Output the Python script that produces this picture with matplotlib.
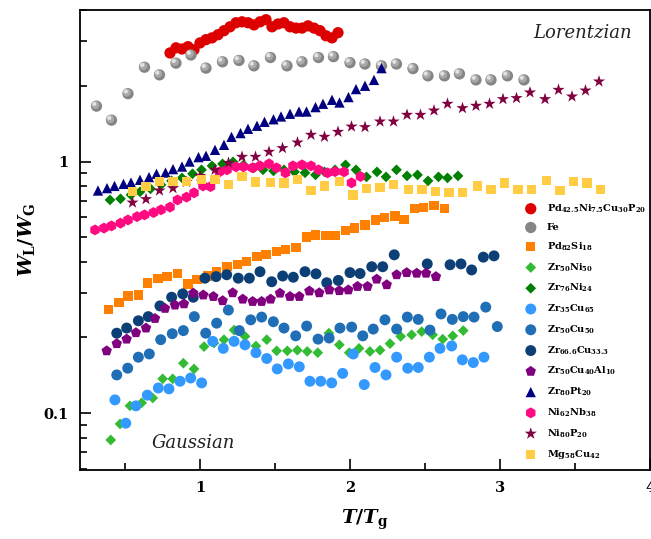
import matplotlib
matplotlib.use("Agg")
import matplotlib.pyplot as plt
import matplotlib.transforms as mtransforms
from matplotlib.ticker import FixedLocator, FixedFormatter, LogLocator, NullFormatter

plt.rcParams['font.family'] = 'DejaVu Serif'
plt.rcParams['mathtext.fontset'] = 'custom'
plt.rcParams['mathtext.rm'] = 'DejaVu Serif:bold'
plt.rcParams['mathtext.bf'] = 'DejaVu Serif:bold'
plt.rcParams['mathtext.it'] = 'DejaVu Serif:italic:bold'
plt.rcParams['mathtext.default'] = 'rm'

# --- data: T/Tg and WL/WG ---
pdni_t = [0.80, 0.84, 0.88, 0.92, 0.96, 1.00, 1.04, 1.08, 1.12, 1.16, 1.20, 1.24, 1.28, 1.32, 1.36,
          1.40, 1.44, 1.48, 1.52, 1.56, 1.60, 1.64, 1.68, 1.72, 1.76, 1.80, 1.84, 1.88, 1.92]
pdni_w = [2.70, 2.83, 2.80, 2.86, 2.78, 2.96, 3.05, 3.10, 3.19, 3.31, 3.43, 3.56, 3.59, 3.56, 3.49,
          3.59, 3.66, 3.43, 3.52, 3.56, 3.43, 3.39, 3.39, 3.46, 3.39, 3.31, 3.16, 3.10, 3.25]

fe_t = [0.31, 0.41, 0.52, 0.63, 0.73, 0.84, 0.94, 1.04, 1.15, 1.26, 1.36, 1.47, 1.58, 1.68,
        1.79, 1.89, 2.00, 2.10, 2.21, 2.31, 2.42, 2.52, 2.63, 2.73, 2.84, 2.94, 3.05, 3.16]
fe_w = [1.66, 1.46, 1.86, 2.37, 2.21, 2.46, 2.65, 2.35, 2.49, 2.52, 2.40, 2.59, 2.40, 2.49,
        2.59, 2.61, 2.47, 2.44, 2.40, 2.44, 2.34, 2.19, 2.19, 2.23, 2.11, 2.11, 2.19, 2.11]

pdsi_t = [0.39, 0.46, 0.52, 0.59, 0.65, 0.72, 0.78, 0.85, 0.92, 0.98, 1.05, 1.11, 1.18, 1.25, 1.31,
          1.38, 1.44, 1.51, 1.57, 1.64, 1.71, 1.77, 1.84, 1.90, 1.97, 2.03, 2.10, 2.17, 2.23, 2.30,
          2.36, 2.43, 2.49, 2.56, 2.63]
pdsi_w = [0.259, 0.275, 0.292, 0.295, 0.329, 0.344, 0.349, 0.358, 0.326, 0.339, 0.351, 0.364, 0.382,
          0.389, 0.400, 0.419, 0.426, 0.439, 0.446, 0.457, 0.501, 0.511, 0.507, 0.507, 0.532, 0.544,
          0.560, 0.586, 0.599, 0.608, 0.590, 0.653, 0.659, 0.667, 0.653]

zrni50_t = [0.405, 0.467, 0.533, 0.611, 0.685, 0.751, 0.818, 0.889, 0.96, 1.027, 1.093, 1.16, 1.227,
            1.3, 1.373, 1.445, 1.511, 1.582, 1.649, 1.715, 1.785, 1.859, 1.929, 1.995, 2.06, 2.133,
            2.2, 2.267, 2.338, 2.411, 2.478, 2.551, 2.618, 2.685, 2.755]
zrni50_w = [0.0783, 0.0907, 0.107, 0.110, 0.115, 0.137, 0.137, 0.158, 0.150, 0.184, 0.190, 0.196,
            0.214, 0.202, 0.185, 0.196, 0.177, 0.177, 0.178, 0.176, 0.174, 0.208, 0.187, 0.174,
            0.181, 0.176, 0.178, 0.189, 0.202, 0.205, 0.211, 0.205, 0.197, 0.203, 0.213]

zrni76_t = [0.40, 0.47, 0.54, 0.60, 0.67, 0.74, 0.81, 0.88, 0.95, 1.01, 1.08, 1.15, 1.22, 1.29, 1.36,
            1.42, 1.49, 1.56, 1.63, 1.70, 1.77, 1.83, 1.90, 1.97, 2.04, 2.11, 2.18, 2.24, 2.31, 2.38,
            2.45, 2.52, 2.59, 2.65, 2.72]
zrni76_w = [0.704, 0.711, 0.737, 0.758, 0.779, 0.808, 0.838, 0.861, 0.894, 0.927, 0.961, 0.979, 0.997,
            0.970, 0.944, 0.927, 0.918, 0.927, 0.910, 0.902, 0.885, 0.910, 0.927, 0.970, 0.927, 0.869,
            0.910, 0.869, 0.927, 0.877, 0.885, 0.838, 0.869, 0.861, 0.877]

zrcu35_t = [0.433, 0.505, 0.573, 0.649, 0.722, 0.793, 0.867, 0.938, 1.011, 1.085, 1.155, 1.227, 1.3,
            1.373, 1.445, 1.515, 1.589, 1.662, 1.733, 1.805, 1.878, 1.951, 2.022, 2.095, 2.167, 2.24,
            2.311, 2.385, 2.455, 2.529, 2.6, 2.678, 2.749, 2.822, 2.893]
zrcu35_w = [0.113, 0.0913, 0.107, 0.118, 0.126, 0.125, 0.134, 0.138, 0.132, 0.193, 0.181, 0.193, 0.187,
            0.174, 0.165, 0.150, 0.157, 0.153, 0.134, 0.134, 0.132, 0.144, 0.172, 0.130, 0.152, 0.142,
            0.167, 0.151, 0.152, 0.167, 0.181, 0.185, 0.163, 0.159, 0.167]

zrcu50_t = [0.445, 0.518, 0.589, 0.662, 0.738, 0.815, 0.889, 0.962, 1.038, 1.111, 1.189, 1.262, 1.338,
            1.411, 1.489, 1.56, 1.638, 1.711, 1.787, 1.861, 1.933, 2.011, 2.085, 2.155, 2.233, 2.311,
            2.382, 2.455, 2.533, 2.607, 2.682, 2.755, 2.827, 2.905, 2.982]
zrcu50_w = [0.142, 0.151, 0.167, 0.172, 0.196, 0.207, 0.213, 0.242, 0.208, 0.228, 0.257, 0.213, 0.235,
            0.241, 0.231, 0.218, 0.203, 0.222, 0.197, 0.199, 0.218, 0.220, 0.203, 0.216, 0.235, 0.216,
            0.241, 0.236, 0.214, 0.248, 0.236, 0.242, 0.241, 0.264, 0.221]

zrcu66_t = [0.445, 0.511, 0.589, 0.655, 0.733, 0.811, 0.885, 0.955, 1.033, 1.107, 1.178, 1.255, 1.329,
            1.4, 1.478, 1.551, 1.622, 1.7, 1.773, 1.845, 1.922, 2.0, 2.067, 2.145, 2.218, 2.295,
            2.515, 2.667, 2.74, 2.811, 2.889, 2.96]
zrcu66_w = [0.208, 0.218, 0.233, 0.242, 0.267, 0.289, 0.298, 0.289, 0.344, 0.349, 0.355, 0.344, 0.344,
            0.365, 0.333, 0.351, 0.347, 0.365, 0.358, 0.330, 0.337, 0.362, 0.359, 0.382, 0.382, 0.426,
            0.392, 0.389, 0.392, 0.371, 0.417, 0.422]

zrcual_t = [0.378, 0.445, 0.511, 0.573, 0.64, 0.7, 0.767, 0.833, 0.893, 0.955, 1.022, 1.089, 1.151,
            1.218, 1.285, 1.351, 1.411, 1.471, 1.533, 1.6, 1.662, 1.729, 1.795, 1.862, 1.929, 1.989,
            2.05, 2.117, 2.178, 2.245, 2.311, 2.378, 2.445, 2.507, 2.573]
zrcual_w = [0.177, 0.189, 0.197, 0.209, 0.218, 0.238, 0.261, 0.269, 0.272, 0.300, 0.295, 0.291, 0.280,
            0.301, 0.284, 0.278, 0.278, 0.284, 0.300, 0.291, 0.291, 0.306, 0.301, 0.309, 0.307, 0.309,
            0.319, 0.319, 0.341, 0.324, 0.355, 0.362, 0.360, 0.360, 0.349]

zrpt_t = [0.32, 0.38, 0.43, 0.49, 0.54, 0.60, 0.66, 0.71, 0.77, 0.82, 0.88, 0.93, 0.99, 1.04, 1.10,
          1.16, 1.21, 1.27, 1.32, 1.38, 1.43, 1.49, 1.54, 1.60, 1.66, 1.71, 1.77, 1.82, 1.88, 1.93,
          1.99, 2.04, 2.10, 2.16, 2.21]
zrpt_w = [0.767, 0.784, 0.800, 0.815, 0.825, 0.846, 0.867, 0.894, 0.904, 0.933, 0.955, 1.0, 1.041,
          1.054, 1.113, 1.165, 1.253, 1.297, 1.349, 1.387, 1.438, 1.472, 1.51, 1.548, 1.58, 1.58,
          1.645, 1.696, 1.759, 1.716, 1.803, 1.94, 2.0, 2.11, 2.35]

ninb_t = [0.30, 0.36, 0.41, 0.47, 0.52, 0.58, 0.63, 0.69, 0.74, 0.80, 0.85, 0.91, 0.96, 1.02, 1.07,
          1.13, 1.18, 1.24, 1.29, 1.35, 1.40, 1.46, 1.51, 1.57, 1.62, 1.68, 1.74, 1.79, 1.85, 1.90,
          1.96, 2.01, 2.07]
ninb_w = [0.535, 0.544, 0.555, 0.569, 0.586, 0.604, 0.614, 0.627, 0.643, 0.659, 0.704, 0.722, 0.751,
          0.800, 0.795, 0.910, 0.927, 0.953, 0.953, 0.944, 0.961, 0.979, 0.944, 0.902, 0.961, 0.970,
          0.961, 0.927, 0.902, 0.912, 0.910, 0.823, 0.872]

nip_t = [0.55, 0.64, 0.73, 0.82, 0.91, 1.00, 1.10, 1.19, 1.28, 1.37, 1.46, 1.55, 1.65, 1.74, 1.83,
         1.92, 2.01, 2.10, 2.20, 2.29, 2.38, 2.47, 2.56, 2.65, 2.75, 2.84, 2.93, 3.02, 3.11, 3.20,
         3.30, 3.39, 3.48, 3.57, 3.66]
nip_w = [0.687, 0.709, 0.767, 0.784, 0.830, 0.877, 0.927, 0.988, 1.044, 1.044, 1.093, 1.131, 1.19,
         1.277, 1.254, 1.312, 1.377, 1.370, 1.442, 1.442, 1.533, 1.533, 1.595, 1.696, 1.630, 1.665,
         1.696, 1.77, 1.787, 1.881, 1.77, 1.927, 1.813, 1.915, 2.08]

mgcu_t = [0.55, 0.64, 0.73, 0.82, 0.91, 1.01, 1.10, 1.19, 1.28, 1.37, 1.47, 1.56, 1.65, 1.74, 1.83,
          1.93, 2.02, 2.11, 2.20, 2.29, 2.39, 2.48, 2.57, 2.66, 2.75, 2.85, 2.94, 3.03, 3.12, 3.21,
          3.31, 3.40, 3.49, 3.58, 3.67]
mgcu_w = [0.760, 0.795, 0.833, 0.833, 0.833, 0.846, 0.851, 0.808, 0.872, 0.830, 0.825, 0.821, 0.846,
          0.767, 0.800, 0.833, 0.737, 0.784, 0.788, 0.808, 0.772, 0.772, 0.760, 0.753, 0.753, 0.800,
          0.772, 0.821, 0.772, 0.777, 0.840, 0.767, 0.833, 0.821, 0.777]

fig = plt.figure(figsize=(6.51, 5.39), dpi=100)
ax = fig.add_axes([80 / 651, 69 / 539, 570 / 651, 460 / 539])

handles = []
labels = []


def add(t, w, marker, color, s, label):
    h = ax.scatter(t, w, marker=marker, s=s, c=color, edgecolors='none', zorder=3)
    handles.append(h)
    labels.append(label)
    return h


add(pdni_t, pdni_w, 'o', '#dd0000', 66, r'Pd$_{42.5}$Ni$_{7.5}$Cu$_{30}$P$_{20}$')

# Fe: grey spheres with a highlight
h = ax.scatter(fe_t, fe_w, marker='o', s=66, c='#858585', edgecolors='none', zorder=3)
off1 = ax.transData + mtransforms.ScaledTranslation(-0.9 / 72, 0.9 / 72, fig.dpi_scale_trans)
off2 = ax.transData + mtransforms.ScaledTranslation(-1.6 / 72, 1.6 / 72, fig.dpi_scale_trans)
ax.scatter(fe_t, fe_w, marker='o', s=34, c='#a9a9a9', edgecolors='none', zorder=3, transform=off1)
ax.scatter(fe_t, fe_w, marker='o', s=9, c='#e2e2e2', edgecolors='none', zorder=3, transform=off2)
handles.append(h)
labels.append('Fe')

add(pdsi_t, pdsi_w, 's', '#ff8000', 44, r'Pd$_{82}$Si$_{18}$')
add(zrni50_t, zrni50_w, 'D', '#33bb33', 30, r'Zr$_{50}$Ni$_{50}$')
add(zrni76_t, zrni76_w, 'D', '#008000', 30, r'Zr$_{76}$Ni$_{24}$')
add(zrcu35_t, zrcu35_w, 'o', '#3399ff', 62, r'Zr$_{35}$Cu$_{65}$')
add(zrcu50_t, zrcu50_w, 'o', '#1f6eb6', 62, r'Zr$_{50}$Cu$_{50}$')
add(zrcu66_t, zrcu66_w, 'o', '#0b3f75', 62, r'Zr$_{66.6}$Cu$_{33.3}$')
add(zrcual_t, zrcual_w, 'p', '#800080', 62, r'Zr$_{50}$Cu$_{40}$Al$_{10}$')
add(zrpt_t, zrpt_w, '^', '#000080', 55, r'Zr$_{80}$Pt$_{20}$')
add(ninb_t, ninb_w, 'h', '#ff0a80', 62, r'Ni$_{62}$Nb$_{38}$')
add(nip_t, nip_w, '*', '#800040', 85, r'Ni$_{80}$P$_{20}$')
add(mgcu_t, mgcu_w, 's', '#ffcc44', 44, r'Mg$_{58}$Cu$_{42}$')

ax.set_yscale('log')
ax.set_xlim(0.2, 4.0)
ax.set_ylim(0.0595, 4.0)

ax.xaxis.set_major_locator(FixedLocator([1, 2, 3, 4]))
ax.xaxis.set_minor_locator(FixedLocator([0.5, 1.5, 2.5, 3.5]))
ax.yaxis.set_major_locator(FixedLocator([0.1, 1]))
ax.yaxis.set_major_formatter(FixedFormatter(['0.1', '1']))
ax.yaxis.set_minor_locator(LogLocator(base=10, subs=(2, 3, 4, 5, 6, 7, 8, 9)))
ax.yaxis.set_minor_formatter(NullFormatter())

ax.tick_params(which='both', direction='in', top=False, right=False, width=1.2)
ax.tick_params(which='major', length=8, labelsize=10.5, pad=8)
ax.tick_params(which='minor', length=5)
for lab in ax.get_xticklabels() + ax.get_yticklabels():
    lab.set_fontweight('bold')
for sp in ax.spines.values():
    sp.set_linewidth(1.3)

ax.set_xlabel(r'$\mathit{T}/\mathit{T}_{\mathrm{g}}$', fontsize=14)
ax.set_ylabel(r'$\mathit{W}_{\mathrm{L}}/\mathit{W}_{\mathrm{G}}$', fontsize=14)
ax.xaxis.set_label_coords(0.5, -0.082)
ax.yaxis.set_label_coords(-0.075, 0.5)

ax.text(0.968, 0.939, 'Lorentzian', transform=ax.transAxes, ha='right', va='baseline',
        fontsize=13, style='italic', color='#222222')
ax.text(0.126, 0.048, 'Gaussian', transform=ax.transAxes, ha='left', va='baseline',
        fontsize=13, style='italic', color='#222222')

ax.legend(handles, labels, loc='upper left', bbox_to_anchor=(0.778, 0.582), frameon=False,
          prop={'family': 'DejaVu Serif', 'weight': 'bold', 'size': 7},
          handlelength=1.5, handletextpad=0.9, labelspacing=0.85, borderpad=0,
          borderaxespad=0, scatterpoints=1)

fig.savefig('out.png', dpi=100)
